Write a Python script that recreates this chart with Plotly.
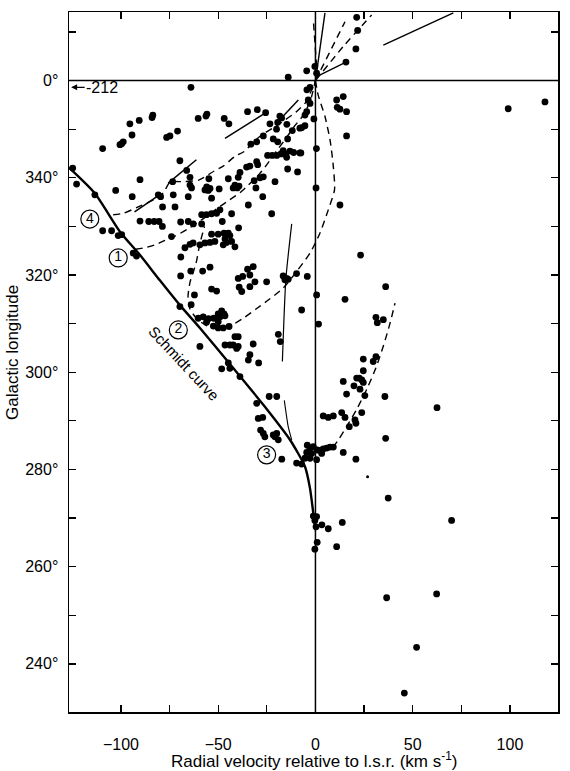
import plotly.graph_objects as go

# ---------------- data (velocity km/s, galactic longitude deg; 0 deg = 360) -------------
top_v = [21.2, 21.7, 20.8, 15.7, -0.3, 0.6, -4.5, -14]
top_l = [373, 370.3, 366.5, 363.8, 362.9, 361.5, 362, 360.7]

ul_v = [-64, -95.4, -90.6, -84, -83.6, -94.3, -99.6, -98.8, -100.5, -109.4, -76.5, -74.8, -70.9,
        -124.8, -122.8, -113.4, -102.7, -94.2, -90.2, -69.7, -66.2, -64.5, -73.4, -64.5, -63.7,
        -80.8, -79.6, -73.1, -65.4]
ul_l = [358.6, 351.1, 351.8, 352.4, 352.9, 348.8, 347, 347.4, 346.8, 346, 348.3, 348.6, 349.6,
        342, 338.7, 336.5, 337.4, 336.1, 339.6, 343.5, 341.5, 340.1, 339.2, 338.5, 337.9,
        336.5, 336.1, 336.5, 336.1]

um_v = [-60.3, -56.3, -55.8, -46.9, -44.5, -34.9, -29.9, -25.6, -18.3, -17.4, -23.4, -19.4,
        -20, -14.7, -21.7, -19.4, -14.3, -11.9, -8, -5.4, -5.4, -4.5, -2.8, -3.7, -4.4, -2.8,
        0.5, -0.8, 0.3, -26.8, -33.2, -30.2, -24.6, -22.2, -19.9, -17.7, -16.6, -15.3, -13.1,
        -11.2, -7.5, -14.3, -9.2, -14.8, -30.2, -29.7, -33.7, -35.4, -38.8, -39.7, -54.8, -44.8,
        -31.5, -28.5, -26.8, -20.8, -55.9, -54.2, -56.8, -55.1, -49.5, -42.3, -41.4, -39.3,
        -40.2, -30.6, -27.1, -53.4, -7.1, -8]
um_l = [352.2, 352.7, 353.1, 352.2, 351.1, 353.6, 354, 353.4, 352.7, 352.3, 351.1, 351.4,
        350, 351, 348, 347.4, 348, 349.7, 350.2, 350.7, 352.9, 353.6, 355.3, 356, 358.1, 358.6,
        346, 352.1, 337.9, 348.6, 346.9, 347.4, 344.6, 344.6, 344.6, 344.9, 345.6, 344.9, 345.5,
        345.2, 345.1, 341.8, 341.2, 344.2, 343.3, 342.7, 342.4, 342.2, 341.1, 340.1, 339.8, 339.8,
        339.4, 340, 340.2, 339.2, 338.1, 337.8, 337.5, 337.4, 337.7, 337.9, 338.5, 338.3,
        337.9, 337.9, 336.1, 335.8, 350.3, 345.1]

ur_v = [10.9, 14.3, 11.2, 12.6, 16, 16, 99.1, 118]
ur_l = [356, 356.7, 354.5, 354.1, 353.6, 348.6, 354.2, 355.6]

mid_v = [-34.5, -22.5, -109.4, -104.8, -101.4, -99.6, -90.2, -85.7, -82.9, -80.4, -78.7, -78.6,
         -72.2, -69.3, -65.4, -62.8, -58.5, -58.5, -56, -53.4, -50.8, -49.1, -47.9, -43.1, -39.5,
         -74, -93.7, -92, -67.1, -64.5, -62.9, -59.4, -56.8, -54.2, -51.7, -53.4, -50, -47,
         -44.8, -44, -46.5, -45.7, -43.1, -47.4, -41.4, -69.2, -69.3, -64.1, -58, -54.2, -53.4,
         -50.8, -62.2, -63.9, -69.7]
mid_l = [334.4, 332.6, 329.1, 329.1, 328.1, 328.3, 331.1, 331, 331, 331, 330, 334,
         334, 330.9, 331, 330.5, 330.5, 332.4, 332.4, 332.6, 332.7, 333.4, 331, 332.6, 329.7,
         327.9, 324.5, 323.9, 325.6, 326.3, 326.6, 326.2, 326.6, 326.7, 326.9, 328.4, 328.4, 328.6,
         328.6, 328.1, 327.4, 326.7, 326.9, 326.2, 325.8, 323.7, 319.8, 320.8, 320.8, 321.6, 317.1,
         316.7, 315.9, 313.9, 313.5]

cl_v = [-34.9, -32, -37.4, -39.7, -33.7, -31.1, -33.7, -39.2, -37.9, -25.1, -16.6, -14.8,
        -15.7, -14, -9.7, -4.2, 0.6, -7.1, 1.6, -19.1, -18.1]
cl_l = [321.2, 321.7, 319.7, 319.3, 320, 318.6, 317.6, 317.5, 316.6, 318.6, 319.8, 319.3,
        319, 319.1, 320.3, 319.7, 315.9, 312.8, 309.9, 307.8, 306.3]

mr_v = [12.6, 23.2, 15.2, 36.1, 31.1, 31.8, 34.9]
mr_l = [334.4, 324.1, 315, 317.6, 311.3, 310.2, 310.8]

low_v = [-60.3, -57.7, -55, -52.3, -56, -52.5, -50, -48.2, -50, -49, -47, -46.5, -50, -47.4,
         -44.4, -41.4, -39.7, -59.4, -46.5, -44, -42.3, -39.7, -40.5, -32, -33.7, -34.5, -29.2,
         -44.8, -48.2, -44, -38.8, -23.8, -19.9, -30.2, -29.4, -27.1, -28.2, -26.8, -26, -21.7,
         -19.9, -19.1, -20.8, -17.3, -9.7, -7.1]
low_l = [311.1, 311.4, 311, 311.1, 310.3, 309.5, 310.4, 312.6, 312, 311.4, 312, 311.6, 309.1,
         309.1, 309.4, 307.3, 307.3, 305.3, 305.6, 305.6, 305.6, 305.3, 304.9, 305.8, 303.6,
         302.5, 301.9, 301.9, 300.7, 300.8, 299.1, 295, 295, 293.6, 290.5, 290.7, 288.1, 287.4,
         286.7, 287.1, 287.4, 286.1, 286.7, 282.1, 281.3, 281.1]

ctr_v = [-4.2, -2.8, -4.5, -2, -5.4, -2.8, 0.6, 0.9, -1.1, 2.3, 4, 5.8, 7.5, 9.2, 3.2, 14.3,
         20.8, 4, 6.6, 9.2, 13.5, 15.2, 20.3, 20.8, 17.4, 23.8, 14.3, 16, 19.8, 21.2, 22.5,
         23.8, 24.6, 22.9, 25.4, 24.6, 24.6, 29.7, 31.1, 35.7, 36.1, 62.5]
ctr_l = [285, 284.4, 283.5, 283.3, 282.3, 282.3, 282, 284, 284.7, 283.9, 284.2, 284.4, 284.6,
         284.6, 283.3, 283.5, 282.1, 291, 290.7, 291, 291.7, 290.7, 290.2, 289.5, 288.8, 291.7,
         298.1, 295.5, 297.2, 298.8, 298.8, 298.4, 297.9, 296.5, 295.2, 302.7, 300.3, 302.2,
         303.2, 295, 286.4, 292.7]

bot_v = [37.4, 70, -1.1, -0.3, 0.6, 0.3, 3.3, 6.6, 13.8, 0.9, -0.3, 10.9, 36.6, 62.3, 52, 45.7]
bot_l = [274.1, 269.5, 270.4, 269.5, 270.3, 268.2, 268.6, 267.8, 269.1, 265, 263.6, 264.1,
         253.6, 254.4, 243.4, 234]

small_v = [26.8]
small_l = [278.5]

schmidt_v = [-126.7, -113.6, -100.5, -90.2, -80, -69.7, -59.4, -44, -26.8, -13.1, -5.4, -2.8, -1.1, 0]
schmidt_l = [342.1, 336.9, 328.9, 324.1, 318.9, 313.8, 309.1, 301.7, 293.3, 286.1, 280.6, 276.1, 271, 267.5]

thin1_v = [-16, -14, -12.2]
thin1_l = [294.2, 288.8, 286.1]
thin2_v = [-12.2, -15.2, -17.0]
thin2_l = [330.5, 319.2, 302.2]

loop_v = [0, 1.4, 4.9, 7.5, 9.2, 9.8, 6.6, 2.3, -2.8, -9.7, -16.6, -23.4, -30.2, -37.1, -44,
          -50.8, -56, -61, -64.5, -65.5, -64.5, -61.4, -59.4, -57]
loop_l = [360, 357, 352.6, 347.8, 342.3, 337.5, 333.4, 328.6, 324.5, 320.7, 317.3, 315.1,
          313.1, 311.1, 309.5, 309.2, 309.6, 311, 313, 315.6, 318.5, 322.4, 326.5, 330]

dright_v = [9, 12, 16, 21, 26.5, 31, 35, 38.3, 40.9]
dright_l = [284.5, 286.2, 288.8, 292.2, 296.6, 300.8, 305.5, 310.0, 314.2]

da_v = [-104, -98.8, -90, -82.5, -78, -74.8, -68, -60, -52, -47.4, -41.4, -36.6, -32, -27.7,
        -22, -16, -10, -5, -1.5, 0]
da_l = [332.4, 332.7, 334.2, 335.6, 337, 339.1, 339.2, 339.5, 341.4, 342.4, 344.4, 345.4,
        347.3, 348.8, 350.2, 351.8, 353.5, 355.5, 358.5, 360]

db_v = [-92.5, -87.7, -82.5, -77.4, -72.2, -65, -58, -50.5, -44, -38.8, -34.5, -29, -25,
        -20, -15, -11, -6, -2.5, 0]
db_l = [325.3, 325.6, 326.2, 327.1, 328, 329.6, 331.5, 333.7, 335.5, 336.9, 338.5, 340.7,
        342.7, 345.5, 348.2, 350.5, 353, 356, 360]

tdash1_v = [0, 15.2]
tdash1_l = [360, 372.1]
tdash2_v = [0, 14.3, 28.9]
tdash2_l = [360, 367, 373.5]
tdash3_v = [0.6, -1.1]
tdash3_l = [362.9, 372.5]
tsolid1_v = [0, 4.9]
tsolid1_l = [360, 373.9]
tsolid2_v = [0.6, 15.7]
tsolid2_l = [360.8, 363.8]
tsolid3_v = [34.9, 70.9]
tsolid3_l = [367.3, 373.9]

seg_v = [[-46.5, -25.9], [-20.8, -8.8], [-75.7, -61.2], [-93, -80.2]]
seg_l = [[348.1, 353.3], [350.9, 356], [338.9, 343.7], [333, 336.5]]

label_v = [-116, -101.4, -70.5, -25.1]
label_l = [331.5, 323.5, 308.7, 283]
label_t = ["4", "1", "2", "3"]

x_tickvals = [-100, -50, 0, 50, 100]
x_ticktext = ["\u2212100", "\u221250", "0", "50", "100"]
x_minorvals = [-75, -25, 25, 75]
y_tickvals = [240, 260, 280, 300, 320, 340, 360]
y_ticktext = ["240\u00b0", "260\u00b0", "280\u00b0", "300\u00b0", "320\u00b0", "340\u00b0", "0\u00b0"]
y_minorvals = [250, 270, 290, 310, 330, 350, 370]

FONT = "Liberation Sans, Arial, sans-serif"
fig = go.Figure()

def line(xv, yv, width=1.4, dash="solid"):
    fig.add_trace(go.Scatter(x=xv, y=yv, mode="lines", hoverinfo="skip",
                             line=dict(color="black", width=width, dash=dash, shape="spline", smoothing=0.6),
                             showlegend=False))

line(schmidt_v, schmidt_l, width=2.4)
line(thin1_v, thin1_l, width=1.1)
line(thin2_v, thin2_l, width=1.2)
DASH = "7px,5px"
line(loop_v, loop_l, 1.4, DASH)
line(dright_v, dright_l, 1.4, DASH)
line(da_v, da_l, 1.4, DASH)
line(db_v, db_l, 1.4, DASH)
line(tdash1_v, tdash1_l, 1.4, DASH)
line(tdash2_v, tdash2_l, 1.4, DASH)
line(tdash3_v, tdash3_l, 1.4, DASH)
line(tsolid1_v, tsolid1_l, 1.4)
line(tsolid2_v, tsolid2_l, 1.3)
line(tsolid3_v, tsolid3_l, 1.4)
for sv, sl in zip(seg_v, seg_l):
    line(sv, sl, 1.5)

all_v = top_v + ul_v + um_v + ur_v + mid_v + cl_v + mr_v + low_v + ctr_v + bot_v
all_l = top_l + ul_l + um_l + ur_l + mid_l + cl_l + mr_l + low_l + ctr_l + bot_l
fig.add_trace(go.Scatter(x=all_v, y=all_l, mode="markers", showlegend=False,
                         marker=dict(color="black", size=6.8, line=dict(width=0))))
fig.add_trace(go.Scatter(x=small_v, y=small_l, mode="markers", showlegend=False,
                         marker=dict(color="black", size=3, line=dict(width=0))))

fig.add_trace(go.Scatter(x=label_v, y=label_l, mode="markers+text", text=label_t,
                         textposition="middle center", showlegend=False,
                         textfont=dict(family=FONT, size=14, color="black"),
                         marker=dict(symbol="circle-open", size=18, color="black",
                                     line=dict(width=1.2, color="black"))))

fig.add_hline(y=360, line=dict(color="black", width=1.5))
fig.add_vline(x=0, line=dict(color="black", width=1.5))

fig.add_annotation(x=-67.6, y=301.7, text="Schmidt curve", showarrow=False, textangle=47,
                   font=dict(family=FONT, size=15, color="black"))
fig.add_annotation(x=-125.6, y=358.6, text="-212", showarrow=True, arrowhead=2, arrowsize=1,
                   arrowwidth=1.2, arrowcolor="black", ax=31, ay=0, standoff=0,
                   font=dict(family=FONT, size=16, color="black"))

fig.add_annotation(xref="paper", yref="paper", x=0.5, y=-0.068, yanchor="middle",
                   text="Radial velocity relative to l.s.r. (km s<sup>-1</sup>)", showarrow=False,
                   font=dict(family=FONT, size=17, color="black"))
fig.add_annotation(xref="paper", yref="paper", x=-0.117, y=0.514, xanchor="center", yanchor="middle",
                   text="Galactic longitude", showarrow=False, textangle=-90,
                   font=dict(family=FONT, size=17, color="black"))

axis_common = dict(showgrid=False, showline=True, linecolor="black", linewidth=1.5, mirror="ticks",
                   ticks="inside", ticklen=7, tickwidth=1.3, tickcolor="black", zeroline=False,
                   tickfont=dict(family=FONT, size=16, color="black"))
fig.update_xaxes(range=[-126.7, 124.7], tickmode="array", tickvals=x_tickvals, ticktext=x_ticktext,
                 minor=dict(tickmode="array", tickvals=x_minorvals, ticks="inside", ticklen=7,
                            tickwidth=1.3, tickcolor="black", showgrid=False),
                 ticklabelstandoff=17, **axis_common)
fig.update_yaxes(range=[230.1, 374.1], tickmode="array", tickvals=y_tickvals, ticktext=y_ticktext,
                 minor=dict(tickmode="array", tickvals=y_minorvals, ticks="inside", ticklen=7,
                            tickwidth=1.3, tickcolor="black", showgrid=False),
                 ticklabelstandoff=6, **axis_common)

fig.update_layout(width=570, height=771, margin=dict(l=69, r=12, t=12, b=59, autoexpand=False),
                  plot_bgcolor="white", paper_bgcolor="white", showlegend=False,
                  font=dict(family=FONT, color="black"))

fig.write_html("out.html", config={"displayModeBar": False, "staticPlot": True},
               post_script="document.body.style.margin='0';document.body.style.overflow='hidden';")
